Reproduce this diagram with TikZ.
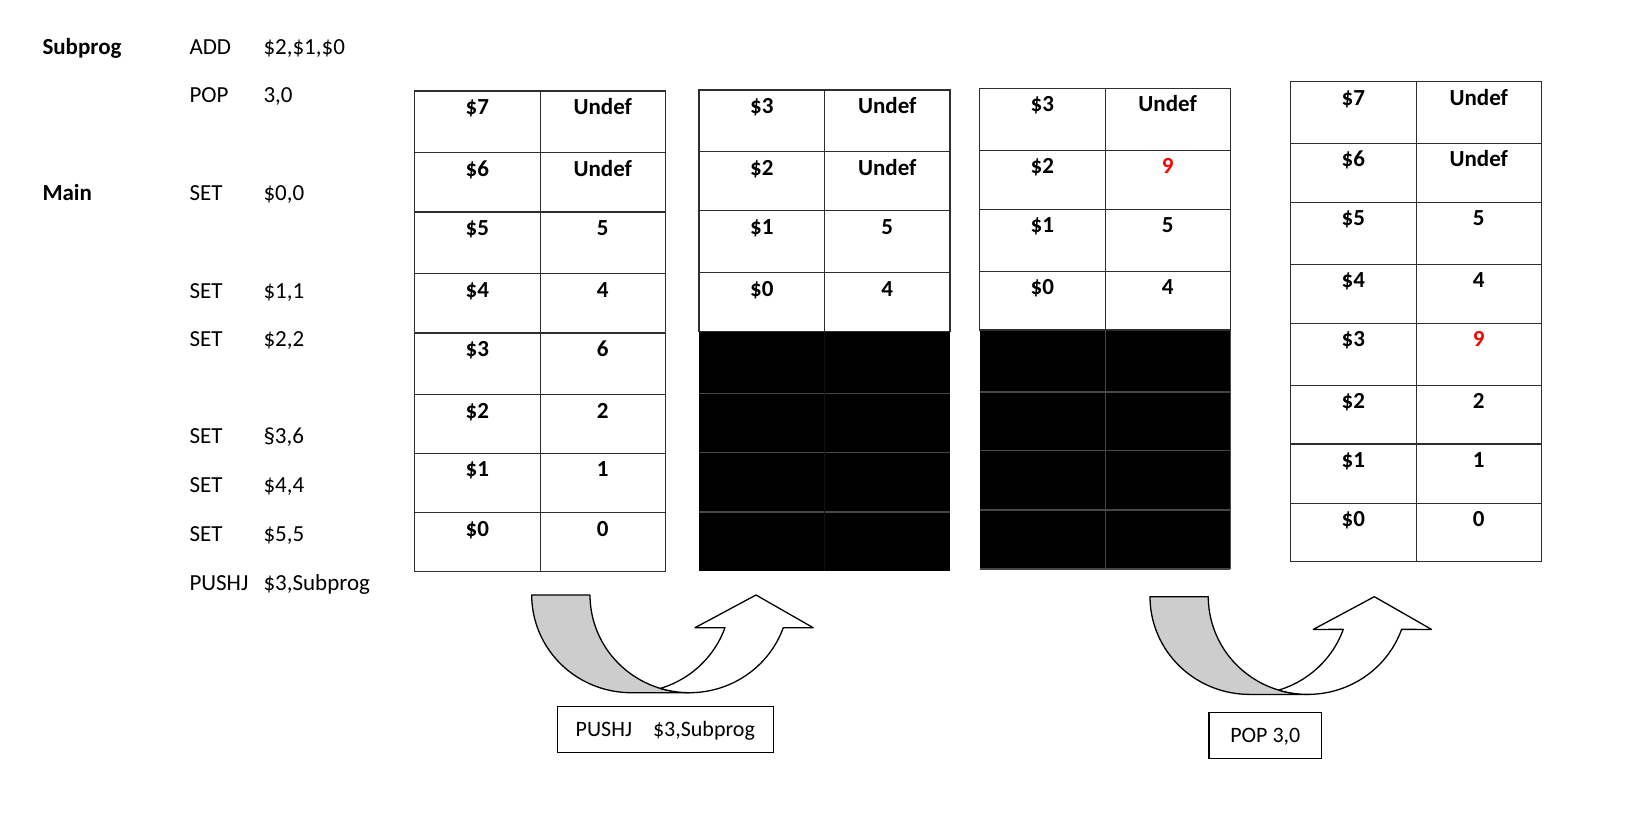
\documentclass[tikz,border=0pt]{standalone}
\usepackage{fontspec}
\setmainfont{Carlito}
\definecolor{band}{RGB}{205,205,205}
\definecolor{nine}{RGB}{255,0,0}
\newcommand{\myuarrow}{%
  \filldraw[fill=band, arrowline] (531.7,595)
    -- plot[domain=180:90, samples=40] ({631.2+99.5*cos(\x)},{595+97.7*sin(\x)})
    -- (689.5,692.7)
    -- plot[domain=90:180, samples=40] ({689.5+99.5*cos(\x)},{595+97.7*sin(\x)})
    -- cycle;
  \filldraw[fill=white, arrowline] (756,595) -- (813.2,627.7)
    -- plot[domain=19.55:107.04, samples=40] ({689.5+99.5*cos(\x)},{595+97.7*sin(\x)})
    -- plot[domain=72.96:19.55, samples=40] ({631.2+99.5*cos(\x)},{595+97.7*sin(\x)})
    -- (695,627.7) -- cycle;
}
\begin{document}
\begin{tikzpicture}[x=1pt,y=-1pt,
  code/.style={anchor=base west, inner sep=0pt, font=\fontsize{23}{27}\selectfont},
  codeb/.style={anchor=base west, inner sep=0pt, font=\fontsize{23}{27}\selectfont\bfseries},
  cellline/.style={draw=black!82, line width=1.2pt},
  darkline/.style={draw=black!72, line width=1.2pt},
  celltxt/.style={anchor=base, inner sep=0pt, font=\fontsize{23}{27}\selectfont\bfseries},
  arrowline/.style={draw=black, line width=1.3pt, line join=round},
  lbl/.style={draw=black, line width=1.5pt, inner sep=0pt, text height=14.2pt, text depth=0pt,
    font=\fontsize{22}{26}\selectfont}
]
\useasboundingbox (0,0) rectangle (1638,826);

% ---- program listing ----
\node[codeb] (lsub) at (42.3,54.4) {Subprog};
\node[code] (m1) at (189.3,54.4) {ADD};
\node[code] (o1) at (263.3,54.4) {\$2,\$1,\$0};
\node[code] (m2) at (189.3,102.4) {POP};
\node[code] (o2) at (263.3,102.4) {3,0};
\node[codeb] (lmain) at (42.3,200.4) {Main};
\node[code] (m3) at (189.3,200.4) {SET};
\node[code] (o3) at (263.3,200.4) {\$0,0};
\node[code] (m4) at (189.3,298.4) {SET};
\node[code] (o4) at (263.3,298.4) {\$1,1};
\node[code] (m5) at (189.3,346.4) {SET};
\node[code] (o5) at (263.3,346.4) {\$2,2};
\node[code] (m6) at (189.3,443.8) {SET};
\node[code] (o6) at (263.3,443.8) {§3,6};
\node[code] (m7) at (189.3,492.8) {SET};
\node[code] (o7) at (263.3,492.8) {\$4,4};
\node[code] (m8) at (189.3,541.7) {SET};
\node[code] (o8) at (263.3,541.7) {\$5,5};
\node[code] (m9) at (189.3,590) {PUSHJ};
\node[code] (o9) at (263.3,590) {\$3,Subprog};

% ---- table 1 ----
\foreach \yt/\yb/\r/\v [count=\i] in {91/152.7/\$7/Undef, 152.7/212/\$6/Undef, 212/273.7/\$5/5,
  273.7/333/\$4/4, 333/394.7/\$3/6, 394.7/453.3/\$2/2, 453.3/512.7/\$1/1, 512.7/571.7/\$0/0}{
  \draw[cellline] (414.7,\yt) rectangle (540.1,\yb);
  \draw[cellline] (540.1,\yt) rectangle (665.5,\yb);
  \node[celltxt] (ta\i-l) at (477.4,{\yt+23.4}) {\r};
  \node[celltxt] (ta\i-r) at (602.8,{\yt+23.4}) {\v};
}

% ---- table 2 ----
\fill[black] (699,331.7) rectangle (950,570.7);
\foreach \yy in {393.7,452.7,512}{\draw[darkline] (699,\yy) -- (950,\yy);}
\draw[draw=black!93, line width=1.2pt] (824.6,331.7) -- (824.6,570.7);
\foreach \yt/\yb/\r/\v [count=\i] in {90/151.7/\$3/Undef, 151.7/210.7/\$2/Undef,
  210.7/272.7/\$1/5, 272.7/331.7/\$0/4}{
  \draw[cellline] (699,\yt) rectangle (824.6,\yb);
  \draw[cellline] (824.6,\yt) rectangle (950,\yb);
  \node[celltxt] (tb\i-l) at (761.8,{\yt+23.4}) {\r};
  \node[celltxt] (tb\i-r) at (887.3,{\yt+23.4}) {\v};
}

% ---- table 3 ----
\fill[black] (979.6,330) rectangle (1230.2,569);
\foreach \yy in {392,450.7,510}{\draw[darkline] (979.6,\yy) -- (1230.2,\yy);}
\draw[darkline] (1105.1,330) -- (1105.1,569);
\draw[darkline] (979.6,569) -- (1230.2,569);
\draw[darkline] (1230.2,330) -- (1230.2,569);
\foreach \yt/\yb/\r/\v [count=\i] in {88.3/150.3/\$3/Undef, 150.3/209.3/\$2/{\textcolor{nine}{9}},
  209.3/271.3/\$1/5, 271.3/330/\$0/4}{
  \draw[cellline] (979.6,\yt) rectangle (1105.1,\yb);
  \draw[cellline] (1105.1,\yt) rectangle (1230.2,\yb);
  \node[celltxt] (tc\i-l) at (1042.35,{\yt+23.4}) {\r};
  \node[celltxt] (tc\i-r) at (1167.65,{\yt+23.4}) {\v};
}

% ---- table 4 ----
\foreach \yt/\yb/\r/\v [count=\i] in {81.7/143.3/\$7/Undef, 143.3/202.3/\$6/Undef, 202.3/264.3/\$5/5,
  264.3/323.3/\$4/4, 323.3/385.3/\$3/{\textcolor{nine}{9}}, 385.3/444/\$2/2, 444/503.3/\$1/1, 503.3/561.7/\$0/0}{
  \draw[cellline] (1290.3,\yt) rectangle (1416.2,\yb);
  \draw[cellline] (1416.2,\yt) rectangle (1541.3,\yb);
  \node[celltxt] (td\i-l) at (1353.25,{\yt+23.4}) {\r};
  \node[celltxt] (td\i-r) at (1478.75,{\yt+23.4}) {\v};
}

% ---- curved arrows ----
\myuarrow
\begin{scope}[shift={(618.3,1.7)}]
  \myuarrow
\end{scope}

% ---- labels ----
\node[lbl, minimum width=216pt, minimum height=46pt] (lab1) at (665.3,729.7) {PUSHJ\hspace{21pt}\$3,Subprog};
\node[lbl, minimum width=112.7pt, minimum height=46pt] (lab2) at (1265.3,735.6) {POP 3,0};
\end{tikzpicture}
\end{document}
